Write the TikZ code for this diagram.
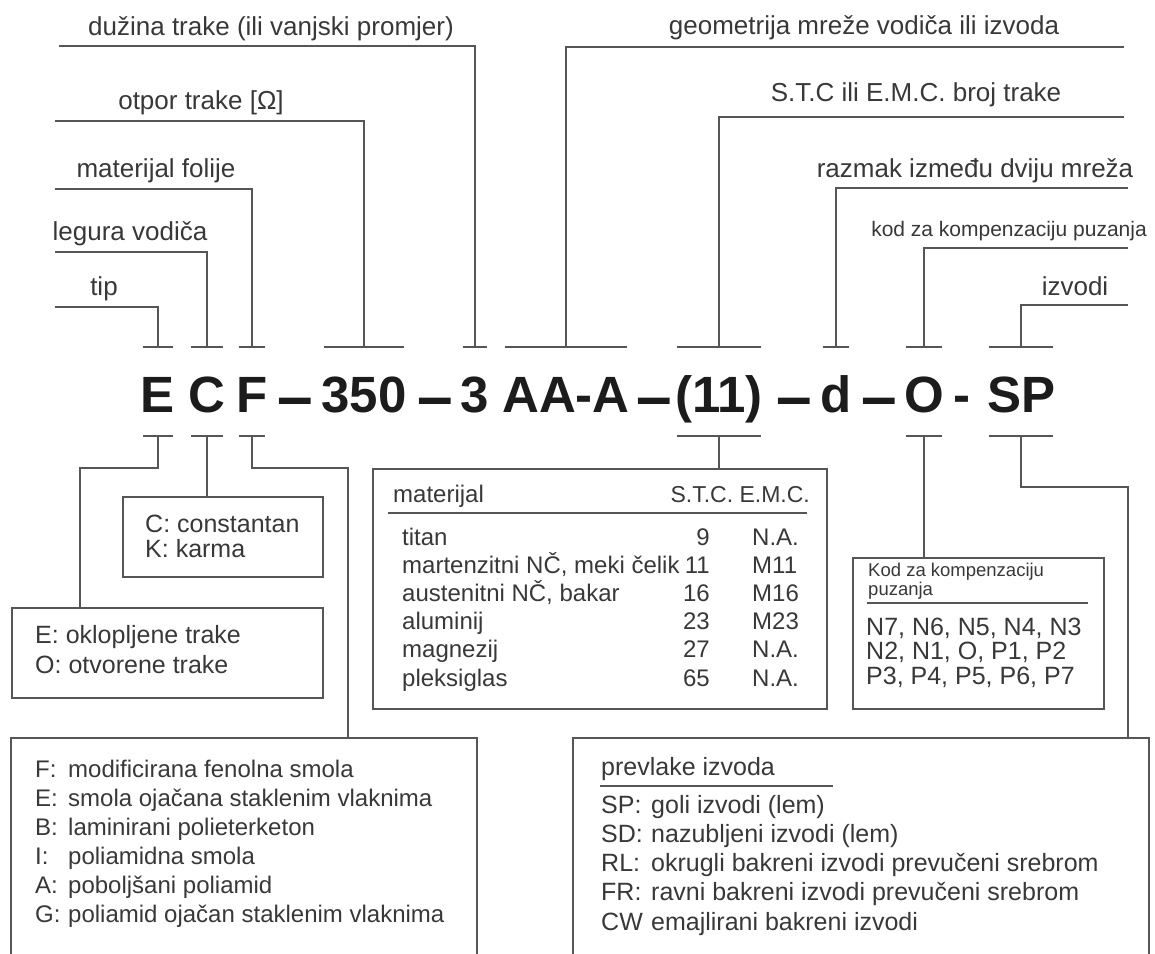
\documentclass[tikz,border=0pt]{standalone}
\usepackage{fontspec}
\setmainfont{Liberation Sans}
\definecolor{ink}{HTML}{1C1C1C}
\definecolor{txt}{HTML}{383838}
\definecolor{wire}{HTML}{565656}

\begin{document}
\begin{tikzpicture}[x=1pt,y=-1pt,
lbl/.style={inner sep=0,anchor=base,text=txt,font=\fontsize{26}{30}\selectfont},
code/.style={inner ysep=0,inner xsep=-2.5pt,anchor=base,text=ink,font=\fontsize{51}{55}\selectfont\bfseries},
minus/.style={code,font=\fontsize{64}{66}\selectfont\bfseries},
box/.style={draw=wire,line width=1.6pt,inner sep=0,anchor=north west},
note/.style={inner sep=0,anchor=base west,text=txt,font=\fontsize{25}{29}\selectfont},
lead/.style={draw=wire,line width=1.6pt}]
 \useasboundingbox (0,0) rectangle (1155,953);
 \clip (0,0) rectangle (1155,953);
 \coordinate (tb) at (0,347);
 \coordinate (bb) at (0,436);
 \coordinate (mid) at (0,468);
 \coordinate (spBend) at (0,487);

 \node[code] (cE) at (158,412) {E};
 \node[code] (cC) at (207,412) {C};
 \node[code] (cF) at (252,412) {F};
 \node[minus] (m1) at (295,418) {–};
 \node[code] (c350) at (364,412) {350};
 \node[minus] (m2) at (435,418) {–};
 \node[code] (c3) at (475,412) {3};
 \node[code] (cAA) at (566,412) {AA-A};
 \node[minus] (m3) at (654,418) {–};
 \node[code] (c11) at (719,412) {(11)};
 \node[minus] (m4) at (794,418) {–};
 \node[code] (cd) at (836,412) {d};
 \node[minus] (m5) at (879,418) {–};
 \node[code] (cO) at (924,412) {O};
 \node[code] (m6) at (962,412) {-};
 \node[code] (cSP) at (1021,412) {SP};

 \node[lbl] (lDuz) at (271,35) {dužina trake (ili vanjski promjer)};
 \node[lbl] (lOtp) at (201,109) {otpor trake [Ω]};
 \node[lbl] (lMat) at (156,177) {materijal folije};
 \node[lbl] (lLeg) at (130,240) {legura vodiča};
 \node[lbl] (lTip) at (104,295) {tip};
 \node[lbl] (lGeo) at (864,34) {geometrija mreže vodiča ili izvoda};
 \node[lbl] (lStc) at (916,101) {S.T.C ili E.M.C. broj trake};
 \node[lbl] (lRaz) at (975,177) {razmak između dviju mreža};
 \node[lbl,font=\fontsize{21}{24}\selectfont] (lKod) at (1009,236) {kod za kompenzaciju puzanja};
 \node[lbl] (lIzv) at (1075,295) {izvodi};

 \coordinate (aDuz) at (59,46);
 \coordinate (aOtp) at (55,121);
 \coordinate (aMat) at (55,189);
 \coordinate (aLeg) at (55,252);
 \coordinate (aTip) at (55,307);
 \coordinate (aGeo) at (1124,47);
 \coordinate (aStc) at (1124,117);
 \coordinate (aRaz) at (1128,188);
 \coordinate (aKod) at (1128,248);
 \coordinate (aIzv) at (1128,305);

 \draw[lead] (aDuz) -| (c3 |- tb);
 \draw[lead] (aOtp) -| (c350 |- tb);
 \draw[lead] (aMat) -| (cF |- tb);
 \draw[lead] (aLeg) -| (cC |- tb);
 \draw[lead] (aTip) -| (cE |- tb);
 \draw[lead] (aGeo) -| (cAA |- tb);
 \draw[lead] (aStc) -| (c11 |- tb);
 \draw[lead] (aRaz) -| (cd |- tb);
 \draw[lead] (aKod) -| (cO |- tb);
 \draw[lead] (aIzv) -| (cSP |- tb);

 \draw[lead] (cE.west |- tb) -- (cE.east |- tb);
 \draw[lead] (cC.west |- tb) -- (cC.east |- tb);
 \draw[lead] (cF.west |- tb) -- (cF.east |- tb);
 \draw[lead] (c350.west |- tb) -- (c350.east |- tb);
 \draw[lead] (c3.west |- tb) -- (c3.east |- tb);
 \draw[lead] (cAA.west |- tb) -- (cAA.east |- tb);
 \draw[lead] (c11.west |- tb) -- (c11.east |- tb);
 \draw[lead] (cd.west |- tb) -- (cd.east |- tb);
 \draw[lead] (cO.west |- tb) -- (cO.east |- tb);
 \draw[lead] (cSP.west |- tb) -- (cSP.east |- tb);

 \draw[lead] (cE.west |- bb) -- (cE.east |- bb);
 \draw[lead] (cC.west |- bb) -- (cC.east |- bb);
 \draw[lead] (cF.west |- bb) -- (cF.east |- bb);
 \draw[lead] (c11.west |- bb) -- (c11.east |- bb);
 \draw[lead] (cO.west |- bb) -- (cO.east |- bb);
 \draw[lead] (cSP.west |- bb) -- (cSP.east |- bb);

 \node[box,minimum width=200pt,minimum height=80pt] (bC) at (122,496) {};
 \node[box,minimum width=311pt,minimum height=90pt] (bE) at (11,607) {};
 \node[box,minimum width=454pt,minimum height=240pt] (bMat) at (372,468) {};
 \node[box,minimum width=251pt,minimum height=151pt] (bKod) at (852,557) {};
 \node[box,minimum width=466pt,minimum height=240pt] (bF) at (10,737) {};
 \node[box,minimum width=576pt,minimum height=240pt] (bIzv) at (572,737) {};

 \draw[lead] (cE |- bb) -- (cE |- mid) -| ([xshift=69pt]bE.north west);
 \draw[lead] (cC |- bb) -- (cC |- bC.north);
 \draw[lead] (cF |- bb) -- (cF |- mid) -| ([xshift=338pt]bF.north west);
 \draw[lead] (c11 |- bb) -- (c11 |- bMat.north);
 \draw[lead] (cO |- bb) -- (cO |- bKod.north);
 \draw[lead] (cSP |- bb) -- (cSP |- spBend) -| ([xshift=556pt]bIzv.north west);

 \node[note,font=\fontsize{25}{25}\selectfont] (tC) at (145,532) {\begin{tabular}[t]{@{}l@{}}C: constantan\\K: karma\end{tabular}};
 \node[note,font=\fontsize{25}{30}\selectfont] (tE) at (35,643) {\begin{tabular}[t]{@{}l@{}}E: oklopljene trake\\O: otvorene trake\end{tabular}};

 \node[note,font=\fontsize{24}{28}\selectfont] (hMat) at (393,502) {materijal};
 \node[note,anchor=base east,font=\fontsize{23}{28}\selectfont] (hStc) at (810,502) {S.T.C. E.M.C.};
 \draw[lead] (388,513) -- (807,513);
 \node[note,font=\fontsize{24}{28.2}\selectfont] (tMat) at (402,545) {\begin{tabular}[t]{@{}l@{}}titan\\\smash{martenzitni NČ, meki čelik}\\\smash{austenitni NČ, bakar}\\aluminij\\magnezij\\pleksiglas\end{tabular}};
 \node[note,anchor=base east,font=\fontsize{24}{28.2}\selectfont] (tStc) at (710,545) {\begin{tabular}[t]{@{}r@{}}9\\11\\16\\23\\27\\65\end{tabular}};
 \node[note,font=\fontsize{24}{28.2}\selectfont] (tEmc) at (752,545) {\begin{tabular}[t]{@{}l@{}}N.A.\\M11\\M16\\M23\\N.A.\\N.A.\end{tabular}};

 \node[note,font=\fontsize{18.5}{20}\selectfont] (hKod1) at (868,576) {Kod za kompenzaciju};
 \node[note,font=\fontsize{18.5}{20}\selectfont] (hKod2) at (868,595) {puzanja};
 \draw[lead] (867,603) -- (1088,603);
 \node[note,font=\fontsize{25}{23.5}\selectfont] (tKod) at (866,635) {\begin{tabular}[t]{@{}l@{}}N7, N6, N5, N4, N3\\N2, N1, O, P1, P2\\P3, P4, P5, P6, P7\end{tabular}};

 \node[note,font=\fontsize{24}{29}\selectfont] (tF) at (35,777) {\begin{tabular}[t]{@{}p{33pt}@{}l@{}}F: & modificirana fenolna smola\\E: & smola ojačana staklenim vlaknima\\B: & laminirani polieterketon\\I: & poliamidna smola\\A: & poboljšani poliamid\\G: & poliamid ojačan staklenim vlaknima\end{tabular}};

 \node[note] (hIzv) at (601,775) {prevlake izvoda};
 \draw[lead] (600,786) -- (833,786);
 \node[note,font=\fontsize{25}{29.3}\selectfont] (tIzv) at (601,813) {\begin{tabular}[t]{@{}p{50pt}@{}l@{}}SP: & goli izvodi (lem)\\SD: & nazubljeni izvodi (lem)\\RL: & okrugli bakreni izvodi prevučeni srebrom\\FR: & ravni bakreni izvodi prevučeni srebrom\\CW & emajlirani bakreni izvodi\end{tabular}};
\end{tikzpicture}
\end{document}
